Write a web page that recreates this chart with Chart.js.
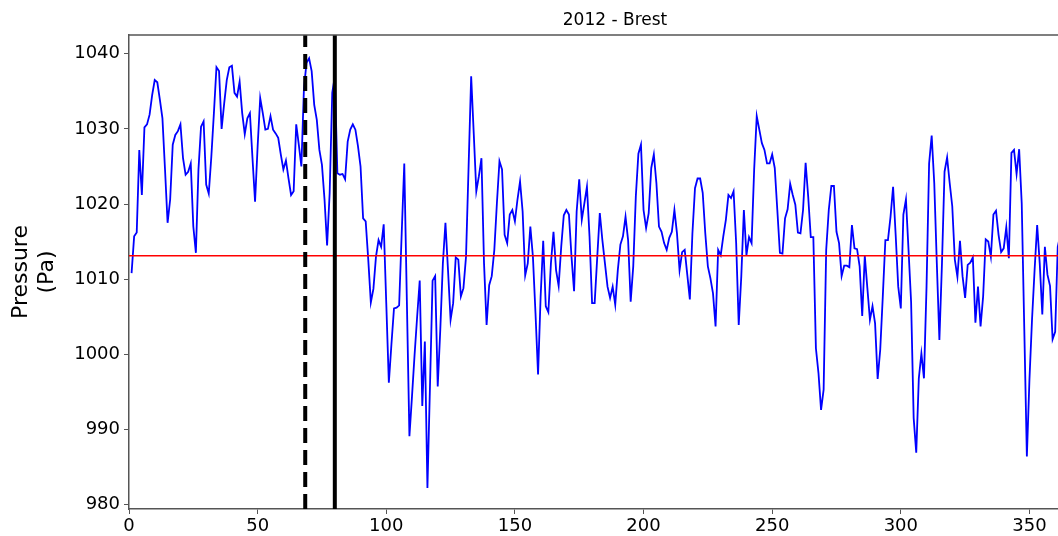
<!DOCTYPE html>
<html>
<head>
<meta charset="utf-8">
<script src="https://cdn.jsdelivr.net/npm/chart.js@4"></script>
<style>
  html, body { margin: 0; padding: 0; background: #ffffff; overflow: hidden; }
  #wrap { position: absolute; left: 0; top: 0; width: 1058px; height: 536px; }
</style>
</head>
<body>
<div id="wrap"><canvas id="myChart" width="1058" height="536"></canvas></div>
<script>
const chartTitle = '2012 - Brest';
const yTitle = ['Pressure', '(Pa)'];

// daily pressure, day 1 onwards
const pressure = [
  1010.8, 1015.7, 1016.2, 1027.2, 1021.2, 1030.2, 1030.6, 1031.9, 1034.5, 1036.5,
  1036.2, 1033.9, 1031.4, 1024.6, 1017.5, 1020.6, 1027.9, 1029.2, 1029.7, 1030.6,
  1026.1, 1023.9, 1024.3, 1025.4, 1017.0, 1013.5, 1024.6, 1030.3, 1031.0, 1022.6,
  1021.4, 1026.3, 1032.1, 1038.2, 1037.7, 1030.0, 1033.4, 1036.5, 1038.2, 1038.4,
  1034.8, 1034.3, 1036.3, 1032.1, 1029.3, 1031.4, 1032.1, 1026.1, 1020.3, 1027.7,
  1034.1, 1032.1, 1029.9, 1030.0, 1031.7, 1029.9, 1029.4, 1028.8, 1026.6, 1024.6,
  1025.8, 1023.4, 1021.2, 1021.7, 1030.6, 1027.9, 1025.0, 1035.4, 1038.8, 1039.4,
  1037.7, 1033.2, 1031.2, 1027.2, 1025.2, 1020.6, 1014.5, 1021.5, 1034.8, 1037.0,
  1024.1, 1023.9, 1024.0, 1023.3, 1028.3, 1029.9, 1030.6, 1029.9, 1027.7, 1025.0,
  1018.1, 1017.7, 1012.6, 1006.9, 1008.7, 1013.0, 1015.2, 1014.3, 1017.3, 1006.8,
  996.2, 1001.3, 1006.1, 1006.2, 1006.5, 1016.1, 1025.4, 1007.2, 989.1, 994.4,
  999.9, 1005.0, 1009.8, 993.1, 1001.7, 982.2, 995.9, 1009.8, 1010.4, 995.7,
  1003.3, 1012.1, 1017.5, 1011.2, 1004.6, 1006.8, 1012.9, 1012.6, 1007.7, 1008.8,
  1013.0, 1025.0, 1037.0, 1029.4, 1021.7, 1023.7, 1026.1, 1012.1, 1003.9, 1009.2,
  1010.4, 1013.9, 1020.1, 1025.7, 1024.6, 1015.9, 1014.8, 1018.6, 1019.2, 1017.7,
  1020.6, 1023.0, 1019.0, 1010.5, 1012.1, 1017.0, 1013.0, 1005.5, 997.3, 1007.7,
  1015.1, 1006.4, 1005.6, 1012.1, 1016.3, 1011.2, 1009.1, 1014.3, 1018.5, 1019.2,
  1018.6, 1013.0, 1008.4, 1019.0, 1023.3, 1017.9, 1020.1, 1022.3, 1015.7, 1006.8,
  1006.8, 1012.9, 1018.8, 1015.2, 1012.1, 1009.0, 1007.5, 1009.0, 1006.6, 1011.2,
  1014.6, 1015.7, 1018.3, 1015.2, 1007.0, 1011.7, 1021.0, 1026.7, 1027.9, 1019.2,
  1016.8, 1018.8, 1024.8, 1026.6, 1022.8, 1017.0, 1016.3, 1014.8, 1013.9, 1015.5,
  1016.3, 1019.2, 1016.1, 1011.2, 1013.6, 1013.9, 1010.6, 1007.3, 1016.1, 1022.1,
  1023.4, 1023.4, 1021.5, 1016.1, 1011.7, 1010.1, 1008.1, 1003.7, 1013.9, 1013.2,
  1015.7, 1017.9, 1021.2, 1020.8, 1021.7, 1014.8, 1003.9, 1010.4, 1019.2, 1013.2,
  1015.6, 1014.8, 1024.6, 1031.7, 1029.9, 1028.1, 1027.2, 1025.4, 1025.4, 1026.6,
  1024.8, 1019.2, 1013.5, 1013.4, 1018.1, 1019.3, 1022.7, 1021.2, 1019.9, 1016.2,
  1016.1, 1019.2, 1025.5, 1021.0, 1015.6, 1015.6, 1000.8, 997.5, 992.6, 995.3,
  1013.9, 1019.2, 1022.4, 1022.4, 1016.3, 1014.8, 1010.4, 1011.8, 1011.8, 1011.6,
  1017.2, 1014.1, 1014.0, 1011.7, 1005.1, 1013.1, 1008.8, 1004.6, 1006.4, 1004.1,
  996.7, 1000.6, 1007.7, 1015.2, 1015.2, 1018.3, 1022.3, 1015.9, 1009.0, 1006.1,
  1018.6, 1020.6, 1013.9, 1007.0, 991.5, 986.9, 996.8, 1000.1, 996.8, 1009.0,
  1025.4, 1029.1, 1022.8, 1012.1, 1001.9, 1012.1, 1024.3, 1026.2, 1022.8, 1019.7,
  1012.6, 1010.3, 1015.1, 1010.4, 1007.5, 1011.9, 1012.2, 1012.9, 1004.2, 1009.0,
  1003.7, 1007.7, 1015.3, 1015.0, 1013.0, 1018.6, 1019.1, 1015.9, 1013.6, 1014.1,
  1016.9, 1012.8, 1026.8, 1027.2, 1024.0, 1027.3, 1020.1, 1003.3, 986.4, 996.6,
  1004.6, 1011.2, 1017.2, 1012.1, 1005.3, 1014.3, 1010.6, 1009.1, 1002.0, 1003.0,
  1014.3, 1015.9
];
const meanPressure = 1013.1;
const dashedDay = 68.5;
const solidDay = 80;
const xTicks = [0, 50, 100, 150, 200, 250, 300, 350];
const yTicks = [980, 990, 1000, 1010, 1020, 1030, 1040];
// visible window: the figure is cut on the right side
const xRange = [0, 361.1];
const yRange = [979.4, 1042.5];

const lineData = pressure.map((p, i) => ({ x: i + 1, y: p }));

const framePlugin = {
  id: 'frame',
  afterDraw(chart) {
    const ctx = chart.ctx;
    const a = chart.chartArea;
    ctx.save();
    ctx.strokeStyle = '#555555';
    ctx.lineWidth = 1.5;
    ctx.beginPath();
    ctx.moveTo(a.left, a.top);
    ctx.lineTo(a.right + 2, a.top);
    ctx.stroke();
    ctx.fillStyle = '#000000';
    ctx.font = '17px "DejaVu Sans"';
    ctx.textAlign = 'center';
    ctx.textBaseline = 'middle';
    ctx.fillText(chartTitle, 615, 21);
    ctx.restore();
  }
};

const context = document.getElementById('myChart').getContext('2d');
new Chart(context, {
  type: 'line',
  data: {
    datasets: [
      {
        data: [{ x: dashedDay, y: yRange[0] }, { x: dashedDay, y: yRange[1] }],
        borderColor: '#000000',
        borderWidth: 4,
        borderDash: [15, 7],
        pointRadius: 0,
        order: 0
      },
      {
        data: [{ x: solidDay, y: yRange[0] }, { x: solidDay, y: yRange[1] }],
        borderColor: '#000000',
        borderWidth: 4,
        pointRadius: 0,
        order: 0
      },
      {
        data: [{ x: 0, y: meanPressure }, { x: 366, y: meanPressure }],
        borderColor: '#ff0000',
        borderWidth: 1.5,
        pointRadius: 0,
        order: 1
      },
      {
        data: lineData,
        borderColor: '#0000ff',
        borderWidth: 1.8,
        pointRadius: 0,
        tension: 0,
        order: 2
      }
    ]
  },
  options: {
    responsive: false,
    animation: false,
    layout: {
      padding: { left: 0, right: 0, top: 35, bottom: 0 }
    },
    plugins: {
      legend: { display: false },
      tooltip: { enabled: false },
      title: { display: false }
    },
    scales: {
      x: {
        type: 'linear',
        min: xRange[0],
        max: xRange[1],
        afterBuildTicks(scale) {
          scale.ticks = xTicks.map(v => ({ value: v }));
        },
        ticks: {
          color: '#000000',
          padding: 2,
          maxRotation: 0,
          autoSkip: false,
          font: { family: 'DejaVu Sans', size: 18 },
          callback: (v) => String(v)
        },
        grid: {
          drawOnChartArea: false,
          drawTicks: true,
          tickLength: 5,
          color: '#555555'
        },
        border: { color: '#555555', width: 1.5 },
        afterFit(scale) { scale.height = 27; }
      },
      y: {
        min: yRange[0],
        max: yRange[1],
        afterBuildTicks(scale) {
          scale.ticks = yTicks.map(v => ({ value: v }));
        },
        ticks: {
          color: '#000000',
          padding: 4,
          autoSkip: false,
          font: { family: 'DejaVu Sans', size: 18 },
          callback: (v) => String(v)
        },
        grid: {
          drawOnChartArea: false,
          drawTicks: true,
          tickLength: 5,
          color: '#555555'
        },
        border: { color: '#555555', width: 1.5 },
        title: {
          display: true,
          text: yTitle,
          color: '#000000',
          font: { family: 'DejaVu Sans', size: 22, lineHeight: 1.15 },
          padding: { top: 9, bottom: 0 }
        },
        afterFit(scale) { scale.width = 129; }
      }
    }
  },
  plugins: [framePlugin]
});
</script>
</body>
</html>
